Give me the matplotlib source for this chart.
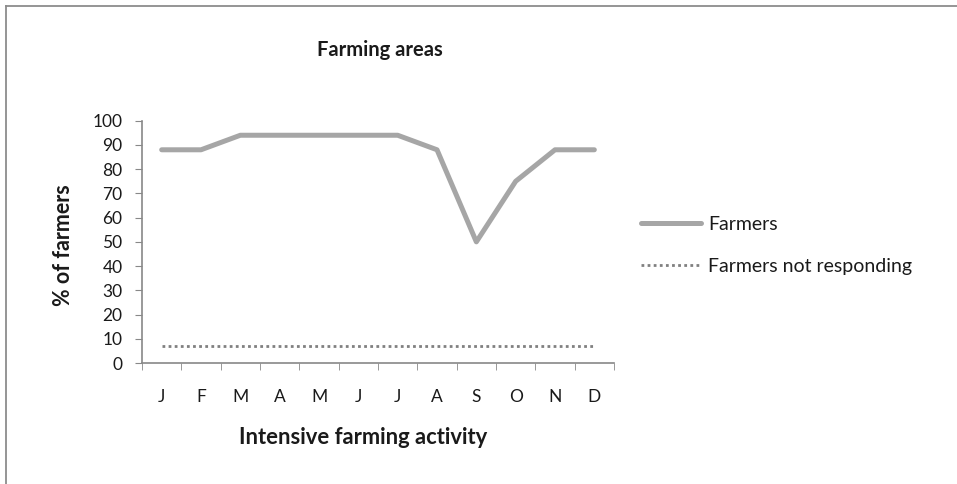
import numpy as np
import matplotlib
matplotlib.use("Agg")
from matplotlib import pyplot as plt
from matplotlib.lines import Line2D

#
# Data
#
months = ["J", "F", "M", "A", "M", "J", "J", "A", "S", "O", "N", "D"]
farmers = [88, 88, 94, 94, 94, 94, 94, 88, 50, 75, 88, 88]
not_responding = [7, 7, 7, 7, 7, 7, 7, 7, 7, 7, 7, 7]

plt.rcParams['font.family'] = ['Lato', 'DejaVu Sans']
plt.rcParams['text.color'] = '#1a1a1a'

fig = plt.figure(figsize=(9.57, 4.84), dpi=100)
ax = fig.add_axes([0.1484, 0.25, 0.4932, 0.5006])

x = np.arange(len(months))
ax.plot(x, farmers, color="#A6A6A6", lw=3.6, solid_capstyle="round", label="Farmers")
ax.plot(x, not_responding, color="#808080", lw=2, linestyle=(0, (1, 1.2)),
        label="Farmers not responding")

ax.set_xlim(-0.5, len(months) - 0.5)
ax.set_ylim(0, 100)
ax.set_yticks(range(0, 101, 10))
ax.set_xticks(x)
ax.set_xticklabels(months)
ax.set_xticks(np.arange(-0.5, len(months), 1), minor=True)
ax.tick_params(axis="x", which="major", length=0, pad=19, labelsize=12.5,
               labelcolor="#1a1a1a")
ax.tick_params(axis="x", which="minor", length=5, color="#888888", direction="out")
ax.tick_params(axis="y", length=5, color="#888888", labelsize=12.5, pad=9,
               labelcolor="#1a1a1a")

for s in ["top", "right"]:
    ax.spines[s].set_visible(False)
for s in ["left", "bottom"]:
    ax.spines[s].set_color("#888888")
    ax.spines[s].set_linewidth(1.2)

fig.text(0.397, 0.897, "Farming areas", ha="center", va="center",
         fontsize=14.5, fontweight="bold")
fig.text(0.379, 0.097, "Intensive farming activity", ha="center", va="center",
         fontsize=15.8, fontweight="bold")
fig.text(0.066, 0.494, "% of farmers", ha="center", va="center",
         rotation=90, fontsize=15.5, fontweight="bold")

# legend outside to the right
handles = [
    Line2D([], [], color="#A6A6A6", lw=3.6, solid_capstyle="round"),
    Line2D([], [], color="#808080", lw=2, linestyle=(0, (1, 1.2))),
]
fig.legend(handles, ["Farmers", "Farmers not responding"],
           loc="center left", bbox_to_anchor=(0.651, 0.493), frameon=False,
           fontsize=14, handlelength=3.1, handletextpad=0.36, labelspacing=1.25)

# outer chart border (only top and left visible)
bx, by = 5.5 / 957, 1 - 6 / 484
fig.add_artist(Line2D([bx, 1.0], [by, by], transform=fig.transFigure,
                      color="#8c8c8c", lw=1.3))
fig.add_artist(Line2D([bx, bx], [0.0, by], transform=fig.transFigure,
                      color="#8c8c8c", lw=1.3))

fig.savefig("out.png", dpi=100)
